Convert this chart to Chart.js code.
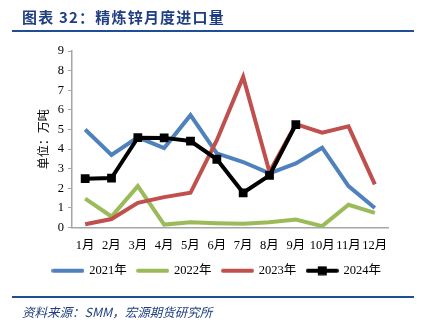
<!DOCTYPE html>
<html><head><meta charset="utf-8">
<script src="https://cdn.jsdelivr.net/npm/chart.js@4/dist/chart.umd.min.js"></script>
<style>
html,body{margin:0;padding:0;background:#fff;width:426px;height:334px;overflow:hidden;}
#title{position:absolute;left:22px;top:6px;font:bold 15px "Noto Sans CJK SC",sans-serif;color:#1F3F80;letter-spacing:1.2px;white-space:nowrap;}
.rule{position:absolute;left:12px;width:402px;height:2px;background:#1F4E96;}
#src{position:absolute;left:22px;top:302px;font:italic 12.5px "Noto Sans CJK SC","Liberation Serif",serif;color:#1F3F80;white-space:nowrap;}
#wrap{position:absolute;left:0;top:0;width:426px;height:334px;}
</style></head><body>
<div id="wrap"><canvas id="c" width="426" height="334"></canvas></div>
<div id="title">图表 32：精炼锌月度进口量</div>
<div class="rule" style="top:30px"></div>
<div class="rule" style="top:296px"></div>
<div id="src">资料来源：SMM，宏源期货研究所</div>
<script>
const months = ["1月","2月","3月","4月","5月","6月","7月","8月","9月","10月","11月","12月"];
const s2021 = [5.0, 3.7, 4.6, 4.05, 5.73, 3.78, 3.34, 2.76, 3.27, 4.07, 2.11, 0.99];
const s2022 = [1.47, 0.56, 2.11, 0.15, 0.27, 0.22, 0.19, 0.27, 0.41, 0.07, 1.16, 0.75];
const s2023 = [0.17, 0.43, 1.26, 1.55, 1.77, 4.45, 7.68, 2.83, 5.27, 4.84, 5.16, 2.2];
const s2024 = [2.49, 2.52, 4.58, 4.57, 4.41, 3.48, 1.77, 2.66, 5.25];
const seriesNames = ["2021年","2022年","2023年","2024年"];
const yTicks = [0,1,2,3,4,5,6,7,8,9];

const colors = ["#4F81BD","#9BBB59","#C0504D","#000000"];
function legendIcon(color, marker){
  const c = document.createElement('canvas');
  c.width = 33; c.height = 10;
  const x = c.getContext('2d');
  x.strokeStyle = color; x.lineWidth = 4; x.lineCap='round';
  x.beginPath(); x.moveTo(2,5); x.lineTo(31,5); x.stroke();
  if (marker){ x.fillStyle = color; x.fillRect(12,0.5,9,9); }
  return c;
}
const serif = '"Liberation Serif","Noto Sans CJK SC",serif';
const ds = [s2021,s2022,s2023,s2024].map((d,i)=>({
  label: seriesNames[i],
  data: d,
  borderColor: colors[i],
  backgroundColor: colors[i],
  borderWidth: 4,
  tension: 0,
  pointStyle: i===3 ? 'rect' : false,
  pointRadius: i===3 ? 6.2 : 0,
  pointBorderWidth: 0,
  order: 4-i,
  yAxisID: 'y',
  legendIcon: legendIcon(colors[i], i===3)
}));

new Chart(document.getElementById('c'), {
  type: 'line',
  data: { labels: months, datasets: ds },
  options: {
    responsive: false, animation: false,
    layout: { padding: { left: 8, right: 0, top: 51, bottom: 47 } },
    plugins: {
      tooltip: {enabled:false},
      legend: {
        position: 'bottom',
        labels: {
          usePointStyle: true,
          pointStyleWidth: 30,
          font: { family: serif, size: 12.5 },
          color: '#000',
          padding: 11,
          generateLabels(chart){
            return chart.data.datasets.map((d,i)=>({
              text: d.label, pointStyle: d.legendIcon, datasetIndex: i,
              fillStyle: d.borderColor, strokeStyle: d.borderColor, lineWidth: 0, fontColor:'#000'
            }));
          }
        }
      }
    },
    scales: {
      x: {
        offset: true,
        grid: { display: false, drawTicks: false },
        border: { color: '#A6A6A6', width: 1.5 },
        ticks: { font: { family: serif, size: 12.5 }, color: '#000', padding: 11, maxRotation: 0, autoSkip: false },
        afterFit(s){ s.height = 26; }
      },
      y: {
        min: 0, max: 9,
        afterBuildTicks(s){ s.ticks = yTicks.map(v=>({value:v})); },
        grid: { drawOnChartArea: false, drawTicks: true, tickLength: 4, color: '#A6A6A6' },
        border: { color: '#A6A6A6', width: 1.5 },
        ticks: { font: { family: serif, size: 12.5 }, color: '#000', padding: 4 },
        title: { display: true, text: '单位：万吨', font: { family: '"Noto Sans CJK SC",sans-serif', size: 12 }, color: '#000', padding: {top:28,bottom:0} },
        afterFit(s){ s.width = 64; }
      },
      y2: {
        position: 'right', min: 0, max: 9,
        grid: { display: false }, border: { display: false },
        ticks: { display: false },
        afterFit(s){ s.width = 38; }
      }
    }
  }
});
</script>
</body></html>
